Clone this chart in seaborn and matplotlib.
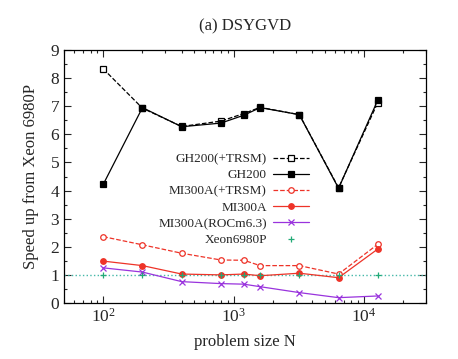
import pandas as pd
import seaborn as sns
import matplotlib
matplotlib.use("Agg")
import matplotlib.pyplot as plt
from matplotlib.ticker import MultipleLocator, LogLocator, NullFormatter

sizes = [100, 200, 400, 800, 1200, 1600, 3200, 6400, 12800]
gh200_trsm = [8.33, 6.93, 6.28, 6.47, 6.74, 6.96, 6.70, 4.10, 7.13]
gh200 = [4.22, 6.95, 6.27, 6.40, 6.68, 6.95, 6.70, 4.08, 7.22]
mi300a_trsm = [2.36, 2.07, 1.77, 1.53, 1.52, 1.33, 1.33, 1.03, 2.09]
mi300a = [1.49, 1.33, 1.03, 1.00, 1.03, 0.97, 1.06, 0.90, 1.92]
mi300a_rocm = [1.25, 1.10, 0.76, 0.69, 0.67, 0.58, 0.37, 0.19, 0.25]
xeon = [1, 1, 1, 1, 1, 1, 1, 1, 1]

series = [
    ("GH200(+TRSM)", gh200_trsm, dict(color="black", linestyle="--", marker="s", markerfacecolor="white", markeredgecolor="black")),
    ("GH200", gh200, dict(color="black", linestyle="-", marker="s", markerfacecolor="black", markeredgecolor="black")),
    ("MI300A(+TRSM)", mi300a_trsm, dict(color="#ee3328", linestyle="--", marker="o", markerfacecolor="white", markeredgecolor="#ee3328")),
    ("MI300A", mi300a, dict(color="#ee3328", linestyle="-", marker="o", markerfacecolor="#ee3328", markeredgecolor="#ee3328")),
    ("MI300A(ROCm6.3)", mi300a_rocm, dict(color="#9933dd", linestyle="-", marker="x", markerfacecolor="#9933dd", markeredgecolor="#9933dd")),
    ("Xeon6980P", xeon, dict(color="#22aa77", linestyle="none", marker="+", markerfacecolor="#22aa77", markeredgecolor="#22aa77")),
]

sns.set_theme(style="ticks")
plt.rcParams['font.family'] = ['Liberation Serif', 'DejaVu Serif']
plt.rcParams['mathtext.fontset'] = 'stix'

fig = plt.figure(figsize=(4.58, 3.59), dpi=100)
ax = fig.add_axes([64 / 458, 1 - 303 / 359, 362 / 458, 253 / 359])

# reference line at speedup 1
ax.axhline(1, color="#44b8a8", linestyle=":", linewidth=1.0, zorder=1)

for name, vals, style in series:
    df = pd.DataFrame({"N": sizes, "speedup": vals})
    sns.lineplot(data=df, x="N", y="speedup", ax=ax, label=name,
                 linewidth=0.9, markersize=4, markeredgewidth=0.9, **style)

ax.set_xscale("log")
ax.set_xlim(50, 30000)
ax.set_ylim(0, 9)
ax.yaxis.set_major_locator(MultipleLocator(1))
ax.yaxis.set_minor_locator(MultipleLocator(0.5))
ax.xaxis.set_major_locator(LogLocator(base=10))
ax.xaxis.set_minor_locator(LogLocator(base=10, subs=range(2, 10)))
ax.xaxis.set_minor_formatter(NullFormatter())
ax.tick_params(which="both", direction="in", top=True, right=True, labelsize=12.5, width=0.8)
ax.tick_params(which="major", length=5)
ax.tick_params(which="minor", length=2.5)
for sp in ax.spines.values():
    sp.set_linewidth(0.9)
    sp.set_color("black")

ax.set_xlabel("problem size N", fontsize=12, labelpad=6)
ax.set_ylabel("Speed up from Xeon 6980P", fontsize=12, labelpad=8)
ax.set_title("(a) DSYGVD", fontsize=12, pad=14)

leg = ax.legend(loc="upper right", bbox_to_anchor=(309 / 458, 1 - 153 / 359),
                bbox_transform=fig.transFigure, frameon=False, markerfirst=False,
                fontsize=9.5, handlelength=2.7, handletextpad=0.5,
                labelspacing=0.3, borderaxespad=0, borderpad=0)
for t in leg.get_texts():
    t.set_ha("right")
leg._legend_box.align = "right"

fig.savefig("out.png", dpi=100)
